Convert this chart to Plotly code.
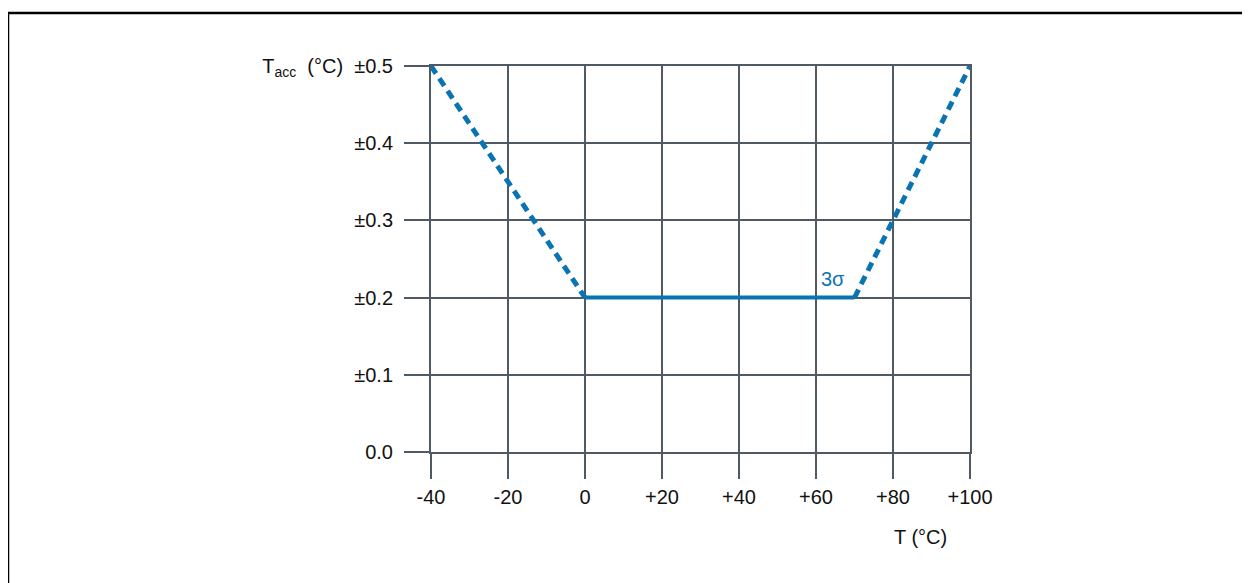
import plotly.graph_objects as go

# data
left_x = [-40, 0]
left_y = [0.5, 0.2]
mid_x = [0, 70]
mid_y = [0.2, 0.2]
right_x = [70, 100]
right_y = [0.2, 0.5]

x_ticks = [-40, -20, 0, 20, 40, 60, 80, 100]
x_ticktext = ["-40", "-20", "0", "+20", "+40", "+60", "+80", "+100"]
y_ticks = [0.0, 0.1, 0.2, 0.3, 0.4, 0.5]
y_ticktext = ["0.0", "±0.1", "±0.2", "±0.3", "±0.4",
              "T<sub>acc</sub>\u00a0 (°C)\u00a0 ±0.5"]

BLUE = "#0a74b2"
GRID = "#505a64"
FONT = "Liberation Sans, Arial, sans-serif"
FS = 20

# page body has an 8px margin; lay out in page coordinates
OFF = 8
PL, PR, PT, PB = 431, 970, 66, 452  # plot area in page pixels
W = 1250 - OFF
H = 583 - OFF
PW = PR - PL
PH = PB - PT

fig = go.Figure()
fig.add_trace(go.Scatter(x=left_x, y=left_y, mode="lines",
                         line=dict(color=BLUE, width=5, dash="9px,6px"), showlegend=False))
fig.add_trace(go.Scatter(x=mid_x, y=mid_y, mode="lines",
                         line=dict(color=BLUE, width=4), showlegend=False))
fig.add_trace(go.Scatter(x=right_x, y=right_y, mode="lines",
                         line=dict(color=BLUE, width=5, dash="9px,6px"), showlegend=False))

axis_common = dict(showgrid=True, gridcolor=GRID, gridwidth=2,
                   showline=True, mirror=True, linecolor=GRID, linewidth=2,
                   ticks="outside", ticklen=25, tickwidth=2, tickcolor=GRID,
                   zeroline=False, fixedrange=True,
                   tickfont=dict(family=FONT, size=FS, color="#111"))

fig.update_xaxes(range=[-40, 100], tickmode="array", tickvals=x_ticks, ticktext=x_ticktext,
                 ticklabelstandoff=1, **axis_common)
fig.update_yaxes(range=[0, 0.5], tickmode="array", tickvals=y_ticks, ticktext=y_ticktext,
                 ticklabelstandoff=7, **axis_common)

fig.add_annotation(x=64.5, y=0.2, text="3σ", showarrow=False, xanchor="center", yanchor="middle",
                   yshift=18.5, font=dict(family=FONT, size=FS, color=BLUE))
fig.add_annotation(xref="paper", yref="paper", x=(920 - PL) / PW, y=(PB - 537) / PH,
                   text="T (°C)", showarrow=False, xanchor="center", yanchor="middle",
                   font=dict(family=FONT, size=FS, color="#111"))

# outer frame
fig.add_shape(type="rect", xref="paper", yref="paper",
              x0=(8 - PL) / PW, x1=(1248 - PL) / PW,
              y0=(PB - 13) / PH, y1=(PB - 640) / PH,
              line=dict(color="black", width=2.5), fillcolor="rgba(0,0,0,0)", layer="below")

fig.update_layout(width=W, height=H, plot_bgcolor="white", paper_bgcolor="white",
                  margin=dict(l=PL - OFF, r=W - (PR - OFF), t=PT - OFF, b=H - (PB - OFF)),
                  font=dict(family=FONT, size=FS, color="#111"))

fig.write_html("out.html")
